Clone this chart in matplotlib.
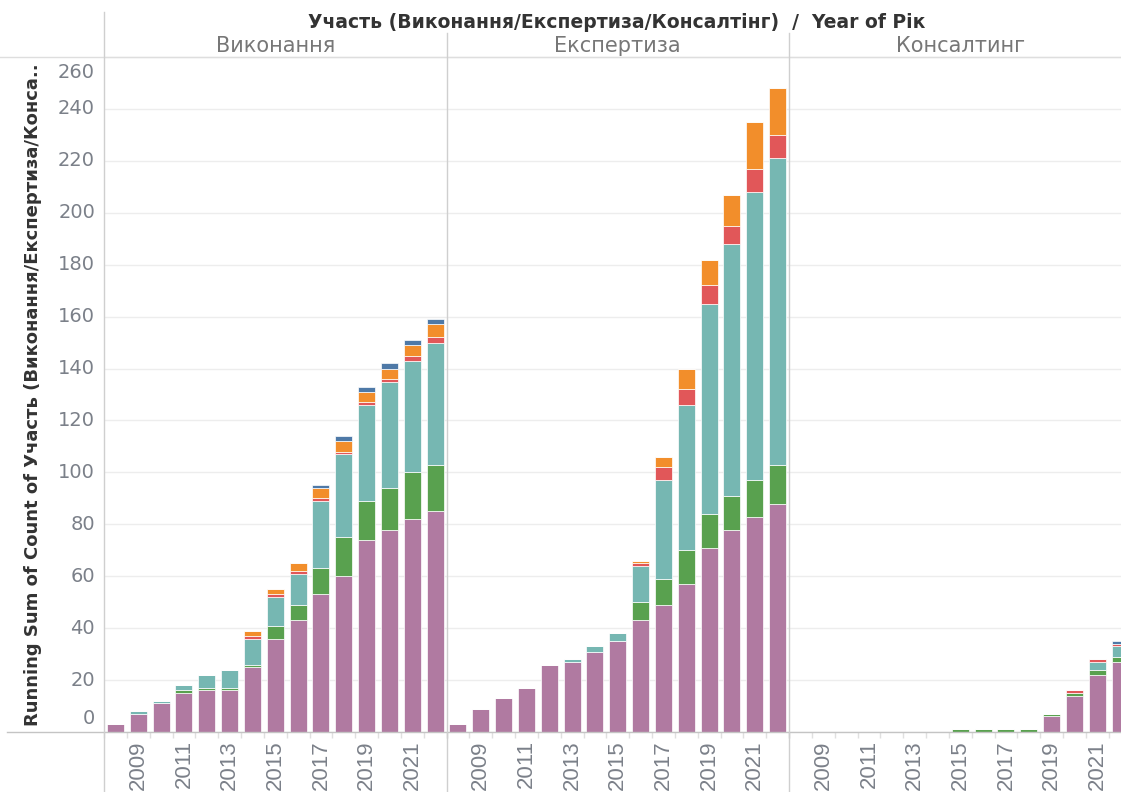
import matplotlib
matplotlib.use("Agg")
import matplotlib.pyplot as plt
from matplotlib.lines import Line2D
from matplotlib.transforms import offset_copy
import numpy as np

years = list(range(2008, 2023))
panels = ["Виконання", "Експертиза", "Консалтинг"]
series_names = ["purple", "green", "teal", "red", "orange", "blue"]
colors = ["#b07aa1", "#59a14f", "#76b7b2", "#e15759", "#f28e2b", "#4e79a7"]

vyk_purple = [3, 7, 11, 15, 16, 16, 25, 36, 43, 53, 60, 74, 78, 82, 85]
vyk_green = [0, 0, 0, 1, 1, 1, 1, 5, 6, 10, 15, 15, 16, 18, 18]
vyk_teal = [0, 1, 1, 2, 5, 7, 10, 11, 12, 26, 32, 37, 41, 43, 47]
vyk_red = [0, 0, 0, 0, 0, 0, 1, 1, 1, 1, 1, 1, 1, 2, 2]
vyk_orange = [0, 0, 0, 0, 0, 0, 2, 2, 3, 4, 4, 4, 4, 4, 5]
vyk_blue = [0, 0, 0, 0, 0, 0, 0, 0, 0, 1, 2, 2, 2, 2, 2]

eks_purple = [3, 9, 13, 17, 26, 27, 31, 35, 43, 49, 57, 71, 78, 83, 88]
eks_green = [0, 0, 0, 0, 0, 0, 0, 0, 7, 10, 13, 13, 13, 14, 15]
eks_teal = [0, 0, 0, 0, 0, 1, 2, 3, 14, 38, 56, 81, 97, 111, 118]
eks_red = [0, 0, 0, 0, 0, 0, 0, 0, 1, 5, 6, 7, 7, 9, 9]
eks_orange = [0, 0, 0, 0, 0, 0, 0, 0, 1, 4, 8, 10, 12, 18, 18]
eks_blue = [0] * 15

kon_purple = [0, 0, 0, 0, 0, 0, 0, 0, 0, 0, 0, 6, 14, 22, 27]
kon_green = [0, 0, 0, 0, 0, 0, 0, 1, 1, 1, 1, 1, 1, 2, 2]
kon_teal = [0, 0, 0, 0, 0, 0, 0, 0, 0, 0, 0, 0, 0, 3, 4]
kon_red = [0, 0, 0, 0, 0, 0, 0, 0, 0, 0, 0, 0, 1, 1, 1]
kon_orange = [0] * 15
kon_blue = [0, 0, 0, 0, 0, 0, 0, 0, 0, 0, 0, 0, 0, 0, 1]

panel_data = [
    [vyk_purple, vyk_green, vyk_teal, vyk_red, vyk_orange, vyk_blue],
    [eks_purple, eks_green, eks_teal, eks_red, eks_orange, eks_blue],
    [kon_purple, kon_green, kon_teal, kon_red, kon_orange, kon_blue],
]

yticks = list(range(0, 261, 20))

W, H = 1121, 792
fig = plt.figure(figsize=(W / 100, H / 100), dpi=100)
fig.patch.set_facecolor("white")

def fx(px):
    return px / W

def fy(py):
    return 1 - py / H

top_px, base_px = 56, 732
panel_left = [104, 446.5, 789]
panel_w = 342.5
px_per_unit = 2.596
ymax = (base_px - top_px) / px_per_unit

grid_c = "#ededed"
line_c = "#c8c8c8"
tick_c = "#7b8089"

x = np.arange(len(years))
axes = []
for i, (pl, data) in enumerate(zip(panel_left, panel_data)):
    ax = fig.add_axes([fx(pl), fy(base_px), panel_w / W, (base_px - top_px) / H])
    ax.set_xlim(-0.5, len(years) - 0.5)
    ax.set_ylim(0, ymax)
    ax.set_facecolor("none")
    for s in ax.spines.values():
        s.set_visible(False)
    ax.set_yticks(yticks)
    ax.yaxis.grid(True, color=grid_c, linewidth=1)
    ax.set_axisbelow(True)
    ax.tick_params(axis="y", length=0, labelleft=False)
    bottom = np.zeros(len(years))
    for vals, col in zip(data, colors):
        vals = np.array(vals, dtype=float)
        ax.bar(x, vals, bottom=bottom, width=0.74, color=col,
               edgecolor="white", linewidth=0.5, zorder=3)
        bottom += vals
    ax.set_xticks(x)
    ax.set_xticklabels([str(y) if y % 2 == 1 else "" for y in years],
                       rotation=90, family="Liberation Sans", fontsize=16,
                       color=tick_c)
    ax.tick_params(axis="x", length=0, pad=6)
    ax.set_xticks(np.arange(len(years) + 1) - 0.5, minor=True)
    ax.tick_params(axis="x", which="minor", length=4, color="#e0e0e0", width=1)
    axes.append(ax)

# y tick labels (Tableau keeps end labels inside the pane)
ax0 = axes[0]
ytrans = ax0.get_yaxis_transform()
for v in yticks:
    dy = 0
    if v == yticks[0]:
        dy = 14
    elif v == yticks[-1]:
        dy = -15
    tr = offset_copy(ytrans, fig=fig, x=-9, y=dy, units="dots")
    ax0.text(0, v, str(v), transform=tr, ha="right", va="center",
             fontsize=14, color=tick_c, family="DejaVu Sans")

# structural lines
def fline(x0, y0, x1, y1, c=line_c, lw=1):
    fig.add_artist(Line2D([fx(x0), fx(x1)], [fy(y0), fy(y1)],
                          transform=fig.transFigure, color=c, linewidth=lw))

fline(7, base_px, W, base_px, c="#c4c4c4")
fline(0, 57, W, 57, c="#dedede")
fline(104, 12, 104, H, c="#cfcfcf")
fline(446.5, 33, 446.5, H, c="#cfcfcf")
fline(789, 33, 789, H, c="#cfcfcf")

# headers
fig.text(fx(617), fy(23), "Участь (Виконання/Експертиза/Консалтінг)  /  Year of Рік",
         ha="center", va="center", fontsize=13.5, fontweight="bold", color="#333333",
         family="DejaVu Sans")
for pl, name in zip(panel_left, panels):
    fig.text(fx(pl + panel_w / 2), fy(46), name, ha="center", va="center",
             fontsize=15, color="#777777", family="DejaVu Sans")

fig.text(fx(33), fy(395), "Running Sum of Count of Участь (Виконання/Експертиза/Конса..",
         rotation=90, ha="center", va="center", fontsize=13, fontweight="bold",
         color="#333333", family="DejaVu Sans")

fig.savefig("out.png", dpi=100, facecolor="white")
